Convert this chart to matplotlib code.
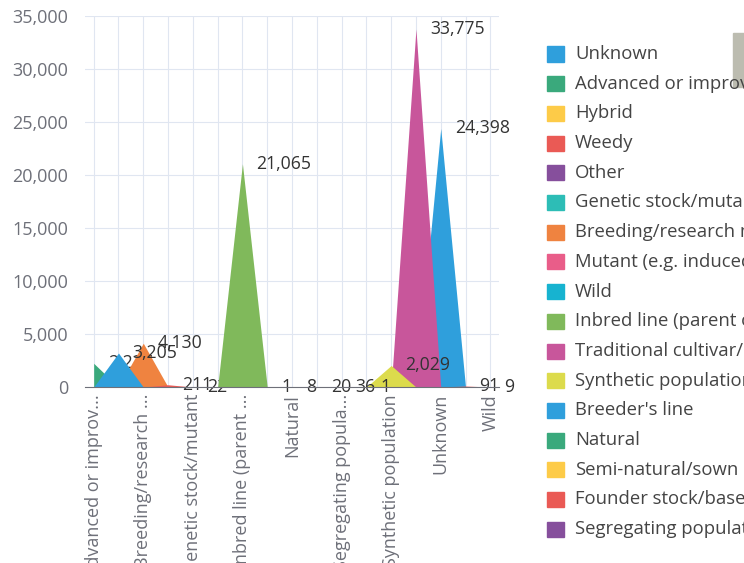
import numpy as np
import matplotlib
matplotlib.use("Agg")
import matplotlib.pyplot as plt
from matplotlib.patches import Rectangle

plt.rcParams['font.family'] = ['Open Sans', 'DejaVu Sans']

# categories on the x axis (alphabetical)
categories = [
    "Advanced or improved cultivar", "Breeder's line", "Breeding/research material",
    "Founder stock/base population", "Genetic stock/mutant", "Hybrid",
    "Inbred line (parent of hybrid cultivar)", "Mutant (e.g. induced/insertion mutants)",
    "Natural", "Other", "Segregating population", "Semi-natural/sown",
    "Synthetic population", "Traditional cultivar/landrace", "Unknown", "Weedy", "Wild",
]
# tick labels as shown (every other category)
tick_labels = [
    "Advanced or improv...", "", "Breeding/research ...", "", "Genetic stock/mutant", "",
    "Inbred line (parent ...", "", "Natural", "", "Segregating popula...", "",
    "Synthetic population", "", "Unknown", "", "Wild",
]

# series in legend / drawing order
series_names = [
    "Unknown", "Advanced or improved cultivar", "Hybrid", "Weedy", "Other",
    "Genetic stock/mutant", "Breeding/research material",
    "Mutant (e.g. induced/insertion mutants)", "Wild",
    "Inbred line (parent of hybrid cultivar)", "Traditional cultivar/landrace",
    "Synthetic population", "Breeder's line", "Natural", "Semi-natural/sown",
    "Founder stock/base population", "Segregating population",
]
series_values = [24398, 2237, 12, 91, 20, 22, 4130, 1, 9, 21065, 33775,
                 2029, 3205, 8, 1, 211, 36]
hide_label = ["Hybrid"]

palette = ['#2f9fdc', '#3aa97c', '#fdcb48', '#ea5a55', '#864f9c', '#2dbdb6',
           '#ef8340', '#e95d89', '#17b3d0', '#80b95b', '#c8569b', '#dcdb4c']

fig = plt.figure(figsize=(7.44, 5.63), dpi=100)
ax = fig.add_axes([85 / 744, 1 - 387 / 563, 414 / 744, 371 / 563])

x = np.arange(len(categories))
for i, (name, val) in enumerate(zip(series_names, series_values)):
    idx = categories.index(name)
    y = np.zeros(len(categories))
    y[idx] = val
    lo, hi = max(idx - 1, 0), min(idx + 2, len(categories))
    z = 2 + i * 0.1
    ax.fill_between(x[lo:hi], 0, y[lo:hi], color=palette[i % len(palette)],
                    linewidth=0, zorder=z)
    if name not in hide_label:
        ax.annotate(f"{val:,}", (idx, val), xytext=(14, 0), textcoords='offset pixels',
                    ha='left', va='center', fontsize=12.7, color='#333333',
                    zorder=z + 0.05, annotation_clip=False)

ax.set_xlim(-0.35, len(categories) - 0.65)
ax.set_ylim(0, 35000)
ax.set_yticks(np.arange(0, 35001, 5000))
ax.yaxis.set_major_formatter(matplotlib.ticker.FuncFormatter(lambda v, p: f"{int(v):,}"))
ax.set_xticks(x)
ax.set_xticklabels(tick_labels, rotation=90, ha='center', va='top')
ax.tick_params(axis='y', length=0, pad=12, labelsize=13, labelcolor='#6e7079')
ax.tick_params(axis='x', length=0, pad=5, labelsize=13, labelcolor='#6e7079')
ax.grid(True, color='#e0e6f1', linewidth=0.8, zorder=0)
ax.set_axisbelow(True)
for s in ['top', 'right', 'left']:
    ax.spines[s].set_visible(False)
ax.spines['bottom'].set_color('#6e7079')
ax.spines['bottom'].set_zorder(10)

# legend drawn by hand so it runs off the right edge like the reference
for i, name in enumerate(series_names):
    yc = 54 + i * 29.7
    fig.patches.append(Rectangle((547 / 744, 1 - (yc + 7.5) / 563), 17 / 744, 15 / 563,
                                 transform=fig.transFigure,
                                 color=palette[i % len(palette)]))
    fig.text(575 / 744, 1 - yc / 563, name, ha='left', va='center',
             fontsize=13.3, color='#444444')

# scrollbar-like grey block at top right
fig.patches.append(Rectangle((733 / 744, 1 - 87 / 563), 11 / 744, 54 / 563,
                             transform=fig.transFigure, color='#bcbcb0'))

plt.savefig('out.png', dpi=100)
